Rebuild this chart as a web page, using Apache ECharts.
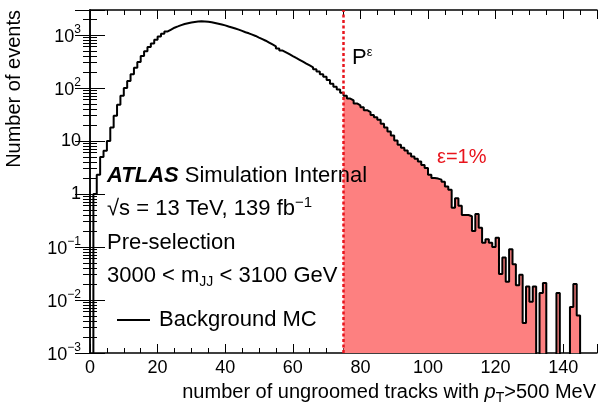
<!DOCTYPE html>
<html><head><meta charset="utf-8">
<script src="https://cdn.jsdelivr.net/npm/echarts@6/dist/echarts.min.js"></script>
<style>html,body{margin:0;padding:0;background:#fff}#c{width:599px;height:415px}</style>
</head><body><div id="c"></div>
<script>
// ---- data ----
const binStart = 0;
const binWidth = 1;
const counts = [
  0, 1.0, 2.3, 5.0, 6.5, 10, 18, 30, 48, 71,
  100, 135, 182, 240, 309, 398, 490, 589, 692, 813,
  933, 1047, 1161, 1259, 1365, 1445, 1531, 1603, 1660, 1718,
  1758, 1786, 1803, 1799, 1778, 1738, 1679, 1622, 1567, 1514,
  1445, 1380, 1318, 1259, 1189, 1122, 1072, 1012, 955, 891,
  832, 776, 716, 661, 610, 556, 507, 468, 432, 398,
  367, 339, 313, 288, 266, 245, 224, 204, 182, 162,
  141, 120, 105, 93, 81, 71, 63, 58, 51, 47,
  43, 38, 35, 31, 28, 25, 21, 18, 15, 12.6,
  10.2, 8.5, 7.4, 6.6, 5.8, 5.1, 4.6, 4.1, 3.5, 3.1,
  2.3, 2.0, 1.95, 1.86, 1.7, 1.38, 1.2, 0.55, 0.83, 0.6,
  0.4, 0.4, 0.38, 0.2, 0.42, 0.23, 0.12, 0.14, 0.12, 0.10,
  0.15, 0.031, 0.063, 0.022, 0.091, 0.047, 0.019, 0.030, 0.0037, 0.018,
  0.0093, 0.018, 0, 0.0135, 0.021, 0, 0, 0, 0.0135, 0,
  0, 0, 0.0074, 0.020, 0.0051, 0, 0, 0
];
const cutValue = 75;          // P^epsilon threshold
const xTickLabels = [0, 20, 40, 60, 80, 100, 120, 140];
const yTickExponents = [-3, -2, -1, 0, 1, 2, 3];
const seriesName = 'Background MC';

// ---- build ----
const F = "'Liberation Sans', Arial, Helvetica, sans-serif";
const FLOOR = 1e-6; // empty bins drawn below the axis floor (clipped)
function stepData(fromIdx) {
  const d = [];
  for (let i = fromIdx; i < counts.length; i++) {
    d.push([binStart + i * binWidth, counts[i] > 0 ? counts[i] : FLOOR]);
  }
  d.push([binStart + counts.length * binWidth, FLOOR]);
  return d;
}
const cutIdx = Math.round((cutValue - binStart) / binWidth);

const xCommon = {
  type: 'value', min: 0, max: 150, interval: 20,
  axisLine: { show: true, onZero: false, lineStyle: { color: '#000', width: 1.5 } },
  splitLine: { show: false },
  minorSplitLine: { show: false }
};
const yCommon = {
  type: 'log', logBase: 10, min: 0.001, max: 2950,
  axisLine: { show: true, lineStyle: { color: '#000', width: 1.5 } },
  splitLine: { show: false },
  minorSplitLine: { show: false }
};

const supRich = {
  e: { fontSize: 18, fontFamily: F, color: '#000', verticalAlign: 'bottom' },
  sup: { fontSize: 12, fontFamily: F, color: '#000', verticalAlign: 'top', padding: [0, 0, 10, 0] }
};

const chart = echarts.init(document.getElementById('c'), null, { renderer: 'canvas' });
chart.setOption({
  animation: false,
  backgroundColor: '#fff',
  grid: { left: 90, right: 2, top: 10, bottom: 62, containLabel: false },
  legend: {
    left: 117, top: 309, padding: 0, icon: 'rect', itemWidth: 33, itemHeight: 2,
    selectedMode: false, data: [seriesName],
    textStyle: { fontSize: 22, fontFamily: F, color: '#000', padding: [0, 0, 0, 4] }
  },
  xAxis: [
    Object.assign({}, xCommon, {
      position: 'bottom',
      axisTick: { show: true, inside: true, length: 9, lineStyle: { color: '#000', width: 1 } },
      minorTick: { show: true, splitNumber: 4, length: 5, lineStyle: { color: '#000', width: 1 } },
      axisLabel: {
        show: true, margin: 6, fontSize: 18, fontFamily: F, color: '#000', showMaxLabel: false,
        formatter: v => xTickLabels.indexOf(v) >= 0 ? String(v) : ''
      }
    }),
    Object.assign({}, xCommon, {
      position: 'top',
      axisTick: { show: true, inside: true, length: 9, lineStyle: { color: '#000', width: 1 } },
      minorTick: { show: true, splitNumber: 4, length: 5, lineStyle: { color: '#000', width: 1 } },
      axisLabel: { show: false }
    })
  ],
  yAxis: [
    Object.assign({}, yCommon, {
      position: 'left',
      axisTick: { show: true, inside: true, length: 15, lineStyle: { color: '#000', width: 1 } },
      minorTick: { show: true, splitNumber: 9, length: 7, lineStyle: { color: '#000', width: 1 } },
      axisLabel: {
        show: true, margin: 9, fontFamily: F, color: '#000', rich: supRich,
        formatter: v => {
          const lg = Math.log10(v), e = Math.round(lg);
          if (Math.abs(lg - e) > 1e-6 || yTickExponents.indexOf(e) < 0) return '';
          if (e === 0) return '{e|1}';
          if (e === 1) return '{e|10}';
          return '{e|10}{sup|' + (e < 0 ? '\u2212' + (-e) : e) + '}';
        }
      }
    }),
    Object.assign({}, yCommon, {
      position: 'right',
      axisTick: { show: true, inside: true, length: 15, lineStyle: { color: '#000', width: 1 } },
      minorTick: { show: true, splitNumber: 9, length: 7, lineStyle: { color: '#000', width: 1 } },
      axisLabel: { show: false }
    })
  ],
  series: [
    {
      name: 'fill', type: 'line', step: 'end', xAxisIndex: 0, yAxisIndex: 0,
      data: stepData(cutIdx), showSymbol: false, symbol: 'none', clip: true, z: 2,
      lineStyle: { width: 0, color: '#fd8080' },
      areaStyle: { color: '#fd8080', opacity: 1, origin: 'start' },
      emphasis: { disabled: true }, silent: true
    },
    {
      name: seriesName, type: 'line', step: 'end', xAxisIndex: 0, yAxisIndex: 0,
      data: stepData(0), showSymbol: false, symbol: 'none', clip: true, z: 3,
      color: '#000',
      lineStyle: { width: 2, color: '#000' },
      emphasis: { disabled: true }, silent: true,
      markLine: {
        silent: true, symbol: ['none', 'none'], label: { show: false },
        lineStyle: { color: '#e8141c', width: 2.5, type: [3, 2.5] },
        data: [{ xAxis: cutValue }]
      }
    }
  ],
  graphic: {
    elements: [
      { type: 'text', x: 14, y: 10, rotation: Math.PI / 2, z: 100,
        style: { text: 'Number of events', fontSize: 20, fontFamily: F, fill: '#000', align: 'right', verticalAlign: 'middle' } },
      { type: 'text', x: 596, y: 392, z: 100,
        style: { text: 'number of ungroomed tracks with {it|p}{sub|T}>500 MeV', fontSize: 20, fontFamily: F, fill: '#000', align: 'right', verticalAlign: 'middle',
          rich: { it: { fontStyle: 'italic', fontSize: 20, fontFamily: F }, sub: { fontSize: 14, fontFamily: F, verticalAlign: 'bottom', padding: [12, 0, 0, 0] } } } },
      { type: 'text', x: 107, y: 176, z: 100,
        style: { text: '{b|ATLAS} Simulation Internal', fontSize: 22, fontFamily: F, fill: '#000', align: 'left', verticalAlign: 'middle',
          rich: { b: { fontWeight: 'bold', fontStyle: 'italic', fontSize: 22, fontFamily: F } } } },
      { type: 'text', x: 107, y: 209, z: 100,
        style: { text: '\u221As = 13 TeV, 139 fb{sup|\u22121}', fontSize: 22, fontFamily: F, fill: '#000', align: 'left', verticalAlign: 'middle',
          rich: { sup: { fontSize: 15, fontFamily: F, verticalAlign: 'top', padding: [0, 0, 12, 0] } } } },
      { type: 'text', x: 107, y: 243, z: 100,
        style: { text: 'Pre-selection', fontSize: 22, fontFamily: F, fill: '#000', align: 'left', verticalAlign: 'middle' } },
      { type: 'text', x: 107, y: 276, z: 100,
        style: { text: '3000 < m{sub|JJ} < 3100 GeV', fontSize: 22, fontFamily: F, fill: '#000', align: 'left', verticalAlign: 'middle',
          rich: { sub: { fontSize: 14, fontFamily: F, verticalAlign: 'bottom', padding: [12, 0, 0, 0] } } } },
      { type: 'text', x: 352, y: 58, z: 100,
        style: { text: 'P{sup|\u03B5}', fontSize: 22, fontFamily: F, fill: '#000', align: 'left', verticalAlign: 'middle',
          rich: { sup: { fontSize: 13, fontFamily: F, verticalAlign: 'top', padding: [0, 0, 12, 0] } } } },
      { type: 'text', x: 437, y: 157, z: 100,
        style: { text: '\u03B5=1%', fontSize: 20, fontFamily: F, fill: '#e8141c', align: 'left', verticalAlign: 'middle' } }
    ]
  }
});
</script>
</body></html>
